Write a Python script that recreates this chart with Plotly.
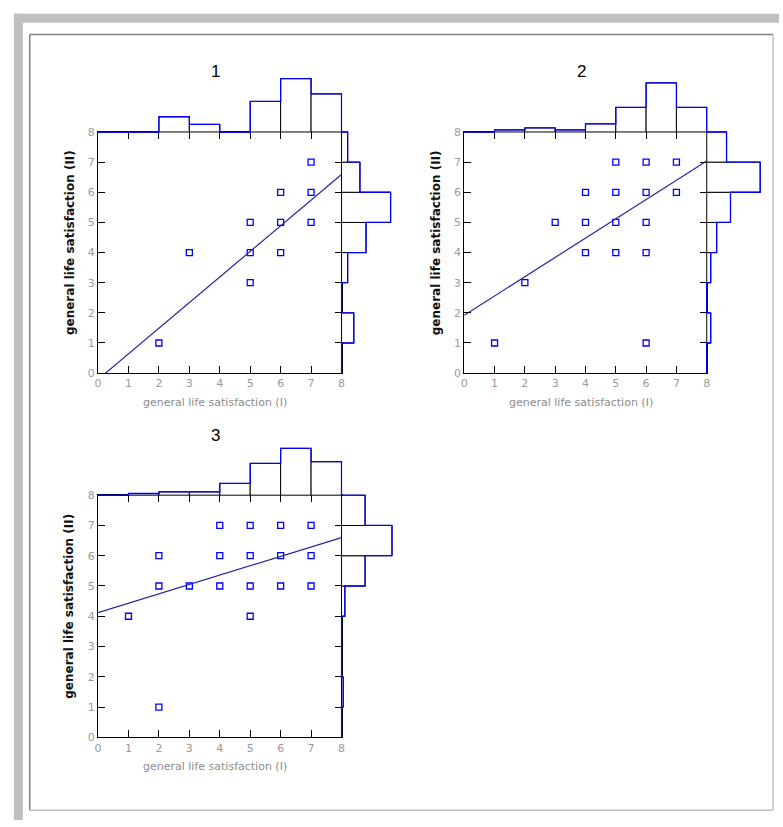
import numpy as np
import plotly.graph_objects as go

FIG_W, FIG_H = 783, 827
FONT = "DejaVu Sans, Liberation Sans, Arial, sans-serif"
TITLE_FONT = "Liberation Sans, Arial, sans-serif"

# ---------------- data ----------------
axis_ticks = [0, 1, 2, 3, 4, 5, 6, 7, 8]
bin_edges = [0, 1, 2, 3, 4, 5, 6, 7, 8]
panel_titles = ["1", "2", "3"]
x_label = "general life satisfaction (I)"
y_label = "general life satisfaction (II)"

# panel 1
p1_x = [2, 3, 5, 5, 5, 6, 6, 6, 7, 7, 7]
p1_y = [1, 4, 5, 4, 3, 6, 5, 4, 7, 6, 5]
p1_top_counts = [0, 0, 2, 1, 0, 4, 7, 5]      # bins [k, k+1) of x
p1_right_counts = [0, 2, 0, 1, 4, 8, 3, 1]    # bins [k, k+1) of y
p1_fit_intercept = -0.21
p1_fit_slope = 0.85

# panel 2
p2_x = [1, 2, 3, 4, 4, 4, 5, 5, 5, 5, 6, 6, 6, 6, 6, 7, 7]
p2_y = [1, 3, 5, 6, 5, 4, 7, 6, 5, 4, 7, 6, 5, 4, 1, 7, 6]
p2_top_counts = [0, 1, 2, 1, 4, 12, 24, 12]
p2_right_counts = [0, 2, 0, 2, 5, 12, 27, 10]
p2_fit_intercept = 1.92
p2_fit_slope = 0.64

# panel 3
p3_x = [1, 2, 2, 2, 3, 4, 4, 4, 5, 5, 5, 5, 6, 6, 6, 7, 7, 7]
p3_y = [4, 6, 5, 1, 5, 7, 6, 5, 7, 6, 5, 4, 7, 6, 5, 7, 6, 5]
p3_top_counts = [0, 1, 2, 2, 7, 19, 28, 20]
p3_right_counts = [0, 1, 0, 0, 2, 14, 30, 14]
p3_fit_intercept = 4.12
p3_fit_slope = 0.31

panels = [
    (p1_x, p1_y, p1_top_counts, p1_right_counts, p1_fit_intercept, p1_fit_slope),
    (p2_x, p2_y, p2_top_counts, p2_right_counts, p2_fit_intercept, p2_fit_slope),
    (p3_x, p3_y, p3_top_counts, p3_right_counts, p3_fit_intercept, p3_fit_slope),
]

# ---------------- layout / style ----------------
# scatter boxes in pixels: left, right, top(y=8), bottom(y=0)
boxes = [(95, 341, 128, 373), (465, 710, 128, 373), (95, 341, 497, 743)]
top_px_per_count = [7.75, 2.08, 1.7]
right_px_per_count = [6.2, 2.0, 1.7]
HIST_H = 64
HIST_W = 64

BLUE = "#0000ff"
FIT = "#2424a0"
TICK_GRAY = "#9a9a9a"
LABEL_GRAY = "#8c8c8c"


def fx(px):
    return px / FIG_W


def fy(px):
    return 1 - px / FIG_H


def xr(n):
    return "x" if n == 1 else f"x{n}"


def yr(n):
    return "y" if n == 1 else f"y{n}"


def xk(n):
    return "xaxis" if n == 1 else f"xaxis{n}"


def yk(n):
    return "yaxis" if n == 1 else f"yaxis{n}"


fig = go.Figure()
layout = {}
annotations = []

centers = [e + 0.5 for e in bin_edges[:-1]]

for i, ((px_, py_, topc, rightc, b0, b1), (L, R, T, B)) in enumerate(zip(panels, boxes)):
    k = 3 * i + 1
    # scatter axes
    common = dict(range=[0, 8], tickvals=axis_ticks, ticks="inside", ticklen=7,
                  tickcolor="black", tickwidth=1, showline=True, linecolor="black",
                  linewidth=1, mirror="ticks", showgrid=False, zeroline=False,
                  tickfont=dict(size=11, color=TICK_GRAY, family=FONT), fixedrange=True)
    layout[xk(k)] = dict(domain=[fx(L), fx(R)], anchor=yr(k), **common)
    layout[yk(k)] = dict(domain=[fy(B), fy(T)], anchor=xr(k), **common)

    # top histogram axes (along-axis matches the scatter x scale)
    ux = (R - L) / 8
    ut = top_px_per_count[i]
    layout[xk(k + 1)] = dict(domain=[fx(L - 1), fx(R + 1)], range=[-1 / ux, 8 + 1 / ux],
                             anchor=yr(k + 1), visible=False, fixedrange=True)
    layout[yk(k + 1)] = dict(domain=[fy(T + 1), fy(T - HIST_H)], range=[-1 / ut, HIST_H / ut],
                             anchor=xr(k + 1), visible=False, fixedrange=True)
    # right histogram axes (along-axis matches the scatter y scale)
    uy = (B - T) / 8
    urt = right_px_per_count[i]
    layout[xk(k + 2)] = dict(domain=[fx(R - 1), fx(R + HIST_W)], range=[-1 / urt, HIST_W / urt],
                             anchor=yr(k + 2), visible=False, fixedrange=True)
    layout[yk(k + 2)] = dict(domain=[fy(B + 1), fy(T - 1)], range=[-1 / uy, 8 + 1 / uy],
                             anchor=xr(k + 2), visible=False, fixedrange=True)

    # scatter points
    fig.add_trace(go.Scatter(x=px_, y=py_, mode="markers",
                             marker=dict(symbol="square-open", size=6, color=BLUE,
                                         line=dict(width=1.3, color=BLUE)),
                             xaxis=xr(k), yaxis=yr(k), hoverinfo="skip", showlegend=False))
    # regression line
    xs = np.array(axis_ticks, dtype=float)
    fig.add_trace(go.Scatter(x=xs, y=b0 + b1 * xs, mode="lines",
                             line=dict(color=FIT, width=1.2),
                             xaxis=xr(k), yaxis=yr(k), hoverinfo="skip", showlegend=False))

    # top histogram
    fig.add_trace(go.Bar(x=centers, y=topc, width=1, marker=dict(color="white",
                         line=dict(color="black", width=1)),
                         xaxis=xr(k + 1), yaxis=yr(k + 1), hoverinfo="skip", showlegend=False))
    fig.add_trace(go.Scatter(x=[bin_edges[0]] + bin_edges, y=[0] + topc + [0], mode="lines",
                             line=dict(color=BLUE, width=1.3, shape="hv"),
                             xaxis=xr(k + 1), yaxis=yr(k + 1), hoverinfo="skip", showlegend=False))
    # right histogram
    fig.add_trace(go.Bar(y=centers, x=rightc, width=1, orientation="h",
                         marker=dict(color="white", line=dict(color="black", width=1)),
                         xaxis=xr(k + 2), yaxis=yr(k + 2), hoverinfo="skip", showlegend=False))
    fig.add_trace(go.Scatter(y=[bin_edges[0]] + bin_edges, x=[0] + rightc + [0], mode="lines",
                             line=dict(color=BLUE, width=1.3, shape="vh"),
                             xaxis=xr(k + 2), yaxis=yr(k + 2), hoverinfo="skip", showlegend=False))

    # texts
    annotations.append(dict(text=panel_titles[i], xref="paper", yref="paper",
                            x=fx((L + R) / 2 - 4), y=fy(T - 61), showarrow=False,
                            xanchor="center", yanchor="middle",
                            font=dict(size=17, color="black", family=TITLE_FONT)))
    annotations.append(dict(text=x_label, xref="paper", yref="paper",
                            x=fx((L + R) / 2 - 5), y=fy(B + 30), showarrow=False,
                            xanchor="center", yanchor="middle",
                            font=dict(size=11, color=LABEL_GRAY, family=FONT)))
    annotations.append(dict(text="<b>" + y_label + "</b>", xref="paper", yref="paper",
                            x=fx(L - 29), y=fy((T + B) / 2 - 10), showarrow=False, textangle=-90,
                            xanchor="center", yanchor="middle",
                            font=dict(size=12, color="#111111", family=FONT)))

# window-like frame
shapes = [
    dict(type="rect", xref="paper", yref="paper", x0=fx(10), x1=fx(783), y0=fy(8), y1=fy(17),
         fillcolor="#c0c0c0", line=dict(width=0), layer="below"),
    dict(type="rect", xref="paper", yref="paper", x0=fx(10), x1=fx(19), y0=fy(8), y1=fy(827),
         fillcolor="#c0c0c0", line=dict(width=0), layer="below"),
    dict(type="line", xref="paper", yref="paper", x0=fx(26), x1=fx(777), y0=fy(29), y1=fy(29),
         line=dict(color="#808080", width=1.5)),
    dict(type="line", xref="paper", yref="paper", x0=fx(26), x1=fx(26), y0=fy(29), y1=fy(817),
         line=dict(color="#808080", width=1.5)),
    dict(type="line", xref="paper", yref="paper", x0=fx(777), x1=fx(777), y0=fy(29), y1=fy(817),
         line=dict(color="#c0c0c0", width=1.5)),
    dict(type="line", xref="paper", yref="paper", x0=fx(26), x1=fx(777), y0=fy(817), y1=fy(817),
         line=dict(color="#c0c0c0", width=1.5)),
]

fig.update_layout(width=FIG_W, height=FIG_H, margin=dict(l=0, r=0, t=0, b=0),
                  paper_bgcolor="white", plot_bgcolor="rgba(0,0,0,0)",
                  showlegend=False, bargap=0, annotations=annotations, shapes=shapes,
                  font=dict(family=FONT), **layout)

post = (
    "document.documentElement.style.margin='0';"
    "document.documentElement.style.overflow='hidden';"
    "document.body.style.margin='0';"
    "document.body.style.overflow='hidden';"
    "var gd=document.getElementById('{plot_id}');"
    "gd.style.position='fixed';gd.style.left='0px';gd.style.top='0px';"
)
fig.write_html("out.html", config={"displayModeBar": False, "staticPlot": True},
               post_script=post)
